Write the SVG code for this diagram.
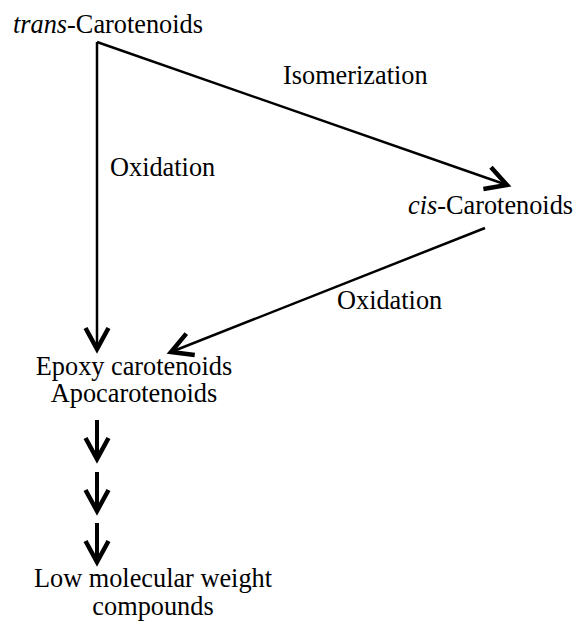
<svg xmlns="http://www.w3.org/2000/svg" width="577" height="622" viewBox="0 0 577 622">
<style>
.t{font-family:'Liberation Serif','Times New Roman',Times,serif;font-size:26.3px;fill:#000}
.c{text-anchor:middle}
.ln{fill:none;stroke:#000;stroke-width:2.5}
.th{fill:none;stroke:#000;stroke-width:4}
</style>
<defs>
<marker id="ah" markerUnits="userSpaceOnUse" markerWidth="40" markerHeight="40" refX="30" refY="20" orient="auto" viewBox="0 0 40 40">
<path d="M9,8.5 L30,20 L9,31.5" fill="none" stroke="#000" stroke-width="4.5"/>
</marker>
</defs>
<rect width="577" height="622" fill="#fff"/>
<g id="connectors">
<path class="ln" d="M97,42 L97,349" marker-end="url(#ah)"/>
<path class="ln" d="M97,42 L507,185" marker-end="url(#ah)"/>
<path class="ln" d="M485,228 L171,352" marker-end="url(#ah)"/>
<path class="th" d="M97,420 L97,459" marker-end="url(#ah)"/>
<path class="th" d="M97,472 L97,511" marker-end="url(#ah)"/>
<path class="th" d="M97,523 L97,562" marker-end="url(#ah)"/>
<text class="t" x="110" y="176">Oxidation</text>
<text class="t" x="283" y="84">Isomerization</text>
<text class="t" x="337" y="309">Oxidation</text>
</g>
<g id="trans"><text class="t" x="13" y="33"><tspan font-style="italic">trans</tspan>-Carotenoids</text></g>
<g id="cis"><text class="t" x="408" y="214"><tspan font-style="italic">cis</tspan>-Carotenoids</text></g>
<g id="epoxy"><text class="t c" x="134" y="375">Epoxy carotenoids</text><text class="t c" x="134" y="402">Apocarotenoids</text></g>
<g id="low"><text class="t c" x="153" y="587">Low molecular weight</text><text class="t c" x="153" y="615">compounds</text></g>
</svg>
